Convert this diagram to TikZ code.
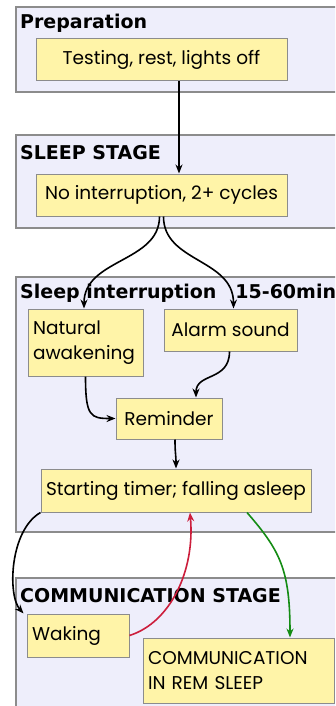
\documentclass[tikz,border=0pt]{standalone}
\usepackage{fontspec}
\setmainfont{Poppins}
\newfontfamily\headfont{DejaVu Sans}
\usetikzlibrary{arrows.meta,calc}
\definecolor{clusterbg}{RGB}{238,238,251}
\definecolor{boxbg}{RGB}{255,244,168}
\definecolor{edgegray}{RGB}{140,140,140}
\definecolor{backred}{RGB}{204,30,60}
\definecolor{remgreen}{RGB}{20,140,20}

\begin{document}
\begin{tikzpicture}[x=1pt,y=-1pt,>={Stealth[length=9pt,width=7pt]},
  cluster/.style={draw=edgegray,fill=clusterbg,line width=1.2pt},
  stagebox/.style={draw=edgegray,fill=boxbg,line width=1pt,inner sep=5pt,
    font=\fontsize{18.5}{25}\selectfont},
  title/.style={anchor=base west,inner sep=0pt,
    font=\headfont\bfseries\fontsize{19}{20}\selectfont},
  link/.style={->,line width=1.6pt}]
  \useasboundingbox (0,0) rectangle (335,706);
  \clip (0,0) rectangle (335,706);
  \fill[white] (0,0) rectangle (335,706);
  % stage clusters
  \draw[cluster] (16,7) rectangle (350,92);
  \draw[cluster] (16,135) rectangle (350,228);
  \draw[cluster] (16,277) rectangle (350,532);
  \draw[cluster] (16,578) rectangle (350,720);
  \node[title] (tprep) at (20,29) {Preparation};
  \node[title] (tsleep) at (20,159) {SLEEP STAGE};
  \node[title] (tint) at (20,298) {Sleep interruption\hspace{19pt}15-60min};
  \node[title] (tcomm) at (20,602) {COMMUNICATION STAGE};
  % steps
  \node[stagebox,minimum width=251pt,minimum height=42pt] (tst) at (161.5,60) {Testing, rest, lights off};
  \node[stagebox,minimum width=251pt,minimum height=42pt] (noi) at (161.5,195) {No interruption, 2+ cycles};
  \node[stagebox,text width=105pt,minimum height=67pt,align=left] (nat) at (85.5,342.5) {Natural\\awakening};
  \node[stagebox,minimum width=133pt,minimum height=42pt] (alm) at (230.5,330) {Alarm sound};
  \node[stagebox,minimum width=106pt,minimum height=41pt] (rem) at (169,418.5) {Reminder};
  \node[stagebox,minimum width=270pt,minimum height=43pt] (tim) at (176,490.5) {Starting timer; falling asleep};
  \node[stagebox,text width=92pt,minimum height=43pt,align=left] (wak) at (78,635.5) {Waking};
  \node[stagebox,text width=181pt,minimum height=65pt,align=left] (com) at (238.5,670.5) {COMMUNICATION\\IN REM SLEEP};
  % connectors
  \draw[link] ([xshift=17.5pt]tst.south) -- ([xshift=17.5pt]noi.north);
  \draw[link] ([xshift=-2pt]noi.south) .. controls +(0,46) and +(0,-50) .. ([xshift=-1.5pt]nat.north);
  \draw[link] ([xshift=2pt]noi.south) .. controls +(0,46) and +(0,-50) .. ([xshift=3pt]alm.north);
  \draw[link] (nat.south) .. controls +(0,40) and +(-25,0) .. (rem.west);
  \draw[link] ([xshift=-1pt]alm.south) .. controls +(0,30) and +(0,-25) .. ([xshift=27pt]rem.north);
  \draw[link] ([xshift=6pt]rem.south) .. controls +(0,14) and +(0,-14) .. (tim.north);
  \draw[link] (tim.south west) .. controls +(-31,18) and +(-16,-18) .. ([xshift=-3pt]wak.north west);
  \draw[link,backred] (wak.east) .. controls +(41,-13) and +(5,58) .. ([xshift=14pt]tim.south);
  \draw[link,remgreen] ([xshift=71pt]tim.south) .. controls +(33,38) and +(0,-68) .. ([xshift=51.5pt]com.north);
\end{tikzpicture}
\end{document}
